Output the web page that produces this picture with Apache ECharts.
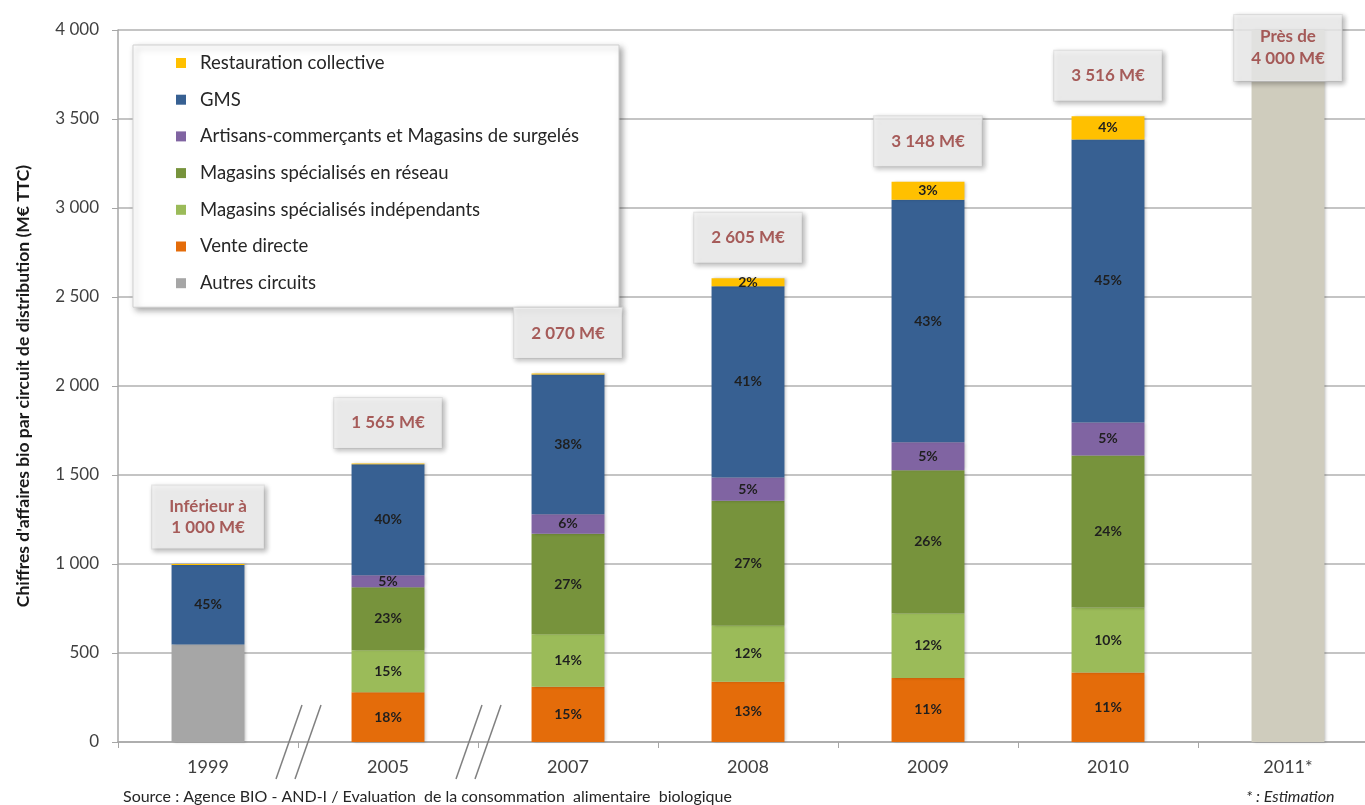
<!DOCTYPE html>
<html><head><meta charset="utf-8">
<script src="https://cdn.jsdelivr.net/npm/echarts@6/dist/echarts.min.js"></script>
<style>html,body{margin:0;padding:0;background:#fff;overflow:hidden}#c{width:1378px;height:805px}</style>
</head><body><div id="c"></div>
<script>
const years = ['1999', '2005', '2007', '2008', '2009', '2010', '2011*'];
const autresCircuits = [548, null, null, null, null, null, null];
const venteDirecte = [null, 280, 310, 338, 360, 390, null];
const magIndep = [null, 236, 295, 315, 362, 365, null];
const magReseau = [null, 354, 565, 703, 805, 855, null];
const artisans = [null, 67, 110, 130, 157, 185, null];
const gms = [447, 623, 785, 1075, 1362, 1590, null];
const restauration = [5, 5, 5, 44, 102, 131, null];
const estimation2011 = [null, null, null, null, null, null, 4000];
const totals = [1000, 1565, 2070, 2605, 3148, 3516, 4000];
const totalLabels = ['Inférieur à\n1 000 M€', '1 565 M€', '2 070 M€', '2 605 M€', '3 148 M€', '3 516 M€', 'Près de\n4 000 M€'];
const pctVente = ['', '18%', '15%', '13%', '11%', '11%', ''];
const pctIndep = ['', '15%', '14%', '12%', '12%', '10%', ''];
const pctReseau = ['', '23%', '27%', '27%', '26%', '24%', ''];
const pctArtisans = ['', '5%', '6%', '5%', '5%', '5%', ''];
const pctGms = ['45%', '40%', '38%', '41%', '43%', '45%', ''];
const pctRestauration = ['', '', '', '2%', '3%', '4%', ''];

const FONT = 'Lato, "Open Sans", sans-serif';
const chart = echarts.init(document.getElementById('c'), null, {renderer: 'canvas'});

function barSeries(name, data, color, pct) {
  return {
    name, type: 'bar', stack: 'total', data, barWidth: '40.5%',
    itemStyle: {color, shadowBlur: 3, shadowOffsetX: 2, shadowOffsetY: 0, shadowColor: 'rgba(0,0,0,0.25)'},
    label: {
      show: !!pct, position: 'inside', color: '#1f1f1f', fontFamily: FONT, fontSize: 14, fontWeight: 'bold',
      formatter: p => pct ? pct[p.dataIndex] : ''
    },
    emphasis: {disabled: true}
  };
}

const option = {
  animation: false,
  backgroundColor: '#fff',
  grid: {left: 118, right: 0, top: 30, bottom: 63, containLabel: false},
  legend: {
    orient: 'vertical', left: 133, top: 45,
    data: ['Restauration collective', 'GMS', 'Artisans-commerçants et Magasins de surgelés', 'Magasins spécialisés en réseau', 'Magasins spécialisés indépendants', 'Vente directe', 'Autres circuits'],
    icon: 'rect', itemWidth: 10, itemHeight: 10, itemGap: 16.7,
    padding: [8, 40, 14, 43],
    backgroundColor: '#fff', borderColor: '#d0d0d0', borderWidth: 1,
    shadowBlur: 6, shadowColor: 'rgba(0,0,0,0.35)', shadowOffsetX: 3, shadowOffsetY: 3,
    textStyle: {fontFamily: FONT, fontSize: 18.5, color: '#262626', lineHeight: 20, padding: [0, 0, 0, 9]},
    selectedMode: false
  },
  xAxis: {
    type: 'category', data: years,
    axisLine: {lineStyle: {color: '#a6a6a6', width: 1.5}},
    axisTick: {show: true, length: 6, lineStyle: {color: '#a6a6a6'}},
    axisLabel: {fontFamily: FONT, fontSize: 18, color: '#404040', margin: 16}
  },
  yAxis: {
    type: 'value', min: 0, max: 4000, interval: 500,
    name: "Chiffres d'affaires bio par circuit de distribution (M€ TTC)",
    nameLocation: 'middle', nameGap: 86, nameRotate: 90,
    nameTextStyle: {fontFamily: FONT, fontSize: 17.5, fontWeight: 'bold', color: '#1a1a1a'},
    axisLine: {show: true, lineStyle: {color: '#a6a6a6', width: 1.5}},
    axisTick: {show: true, length: 6, lineStyle: {color: '#a6a6a6'}},
    axisLabel: {fontFamily: FONT, fontSize: 17, color: '#404040', margin: 19,
      formatter: v => String(v).replace(/\B(?=(\d{3})+(?!\d))/g, ' ')},
    splitLine: {lineStyle: {color: '#c4c4c4', width: 2}}
  },
  series: [
    barSeries('Autres circuits', autresCircuits, '#a6a6a6', null),
    barSeries('Vente directe', venteDirecte, '#e46c0a', pctVente),
    barSeries('Magasins spécialisés indépendants', magIndep, '#9bbb59', pctIndep),
    barSeries('Magasins spécialisés en réseau', magReseau, '#77933c', pctReseau),
    barSeries('Artisans-commerçants et Magasins de surgelés', artisans, '#8064a2', pctArtisans),
    barSeries('GMS', gms, '#376092', pctGms),
    barSeries('Restauration collective', restauration, '#ffc000', pctRestauration),
    barSeries('Estimation 2011', estimation2011, '#cfccbd', null),
    {
      name: 'Totaux', type: 'scatter', symbolSize: 1, z: 10,
      itemStyle: {color: 'rgba(0,0,0,0)'},
      data: totals.map((v, i) => {
        const item = {value: v};
        if (totalLabels[i].indexOf('\n') >= 0) item.label = {lineHeight: 21, padding: [11, 17, 10, 17]};
        if (i === 6) item.label = {position: 'inside', offset: [0, 18], lineHeight: 22, padding: [11, 17, 11, 17]};
        return item;
      }),
      label: {
        show: true, position: 'top', distance: 15,
        formatter: p => totalLabels[p.dataIndex],
        fontFamily: FONT, fontSize: 17, fontWeight: 'bold', color: '#953735', lineHeight: 26,
        backgroundColor: '#f2f2f2', borderColor: '#e0e0e0', borderWidth: 1,
        padding: [12, 17, 12, 17],
        shadowBlur: 5, shadowColor: 'rgba(0,0,0,0.3)', shadowOffsetX: 2, shadowOffsetY: 2
      },
      emphasis: {disabled: true}
    }
  ],
  graphic: [
    {type: 'text', left: 123, top: 789, style: {text: 'Source : Agence BIO - AND-I / Evaluation  de la consommation  alimentaire  biologique', fontFamily: FONT, fontSize: 16, fill: '#262626'}},
    {type: 'text', left: 1246, top: 789, style: {text: '* : Estimation', fontFamily: FONT, fontSize: 16, fontStyle: 'italic', fill: '#262626'}}
  ]
};
chart.setOption(option);

// break marks between non-consecutive years
const y0 = chart.convertToPixel({yAxisIndex: 0}, 0);
const breaks = [];
[[0, 1], [1, 2]].forEach(([a, b]) => {
  const xa = chart.convertToPixel({xAxisIndex: 0}, a);
  const xb = chart.convertToPixel({xAxisIndex: 0}, b);
  const mid = (xa + xb) / 2;
  [-9, 10].forEach(dx => {
    breaks.push({type: 'line', z: 20, shape: {x1: mid + dx - 13, y1: y0 + 37, x2: mid + dx + 13, y2: y0 - 37},
      style: {stroke: '#808080', lineWidth: 1.5}});
  });
});
chart.setOption({graphic: option.graphic.concat(breaks)});
</script></body></html>
